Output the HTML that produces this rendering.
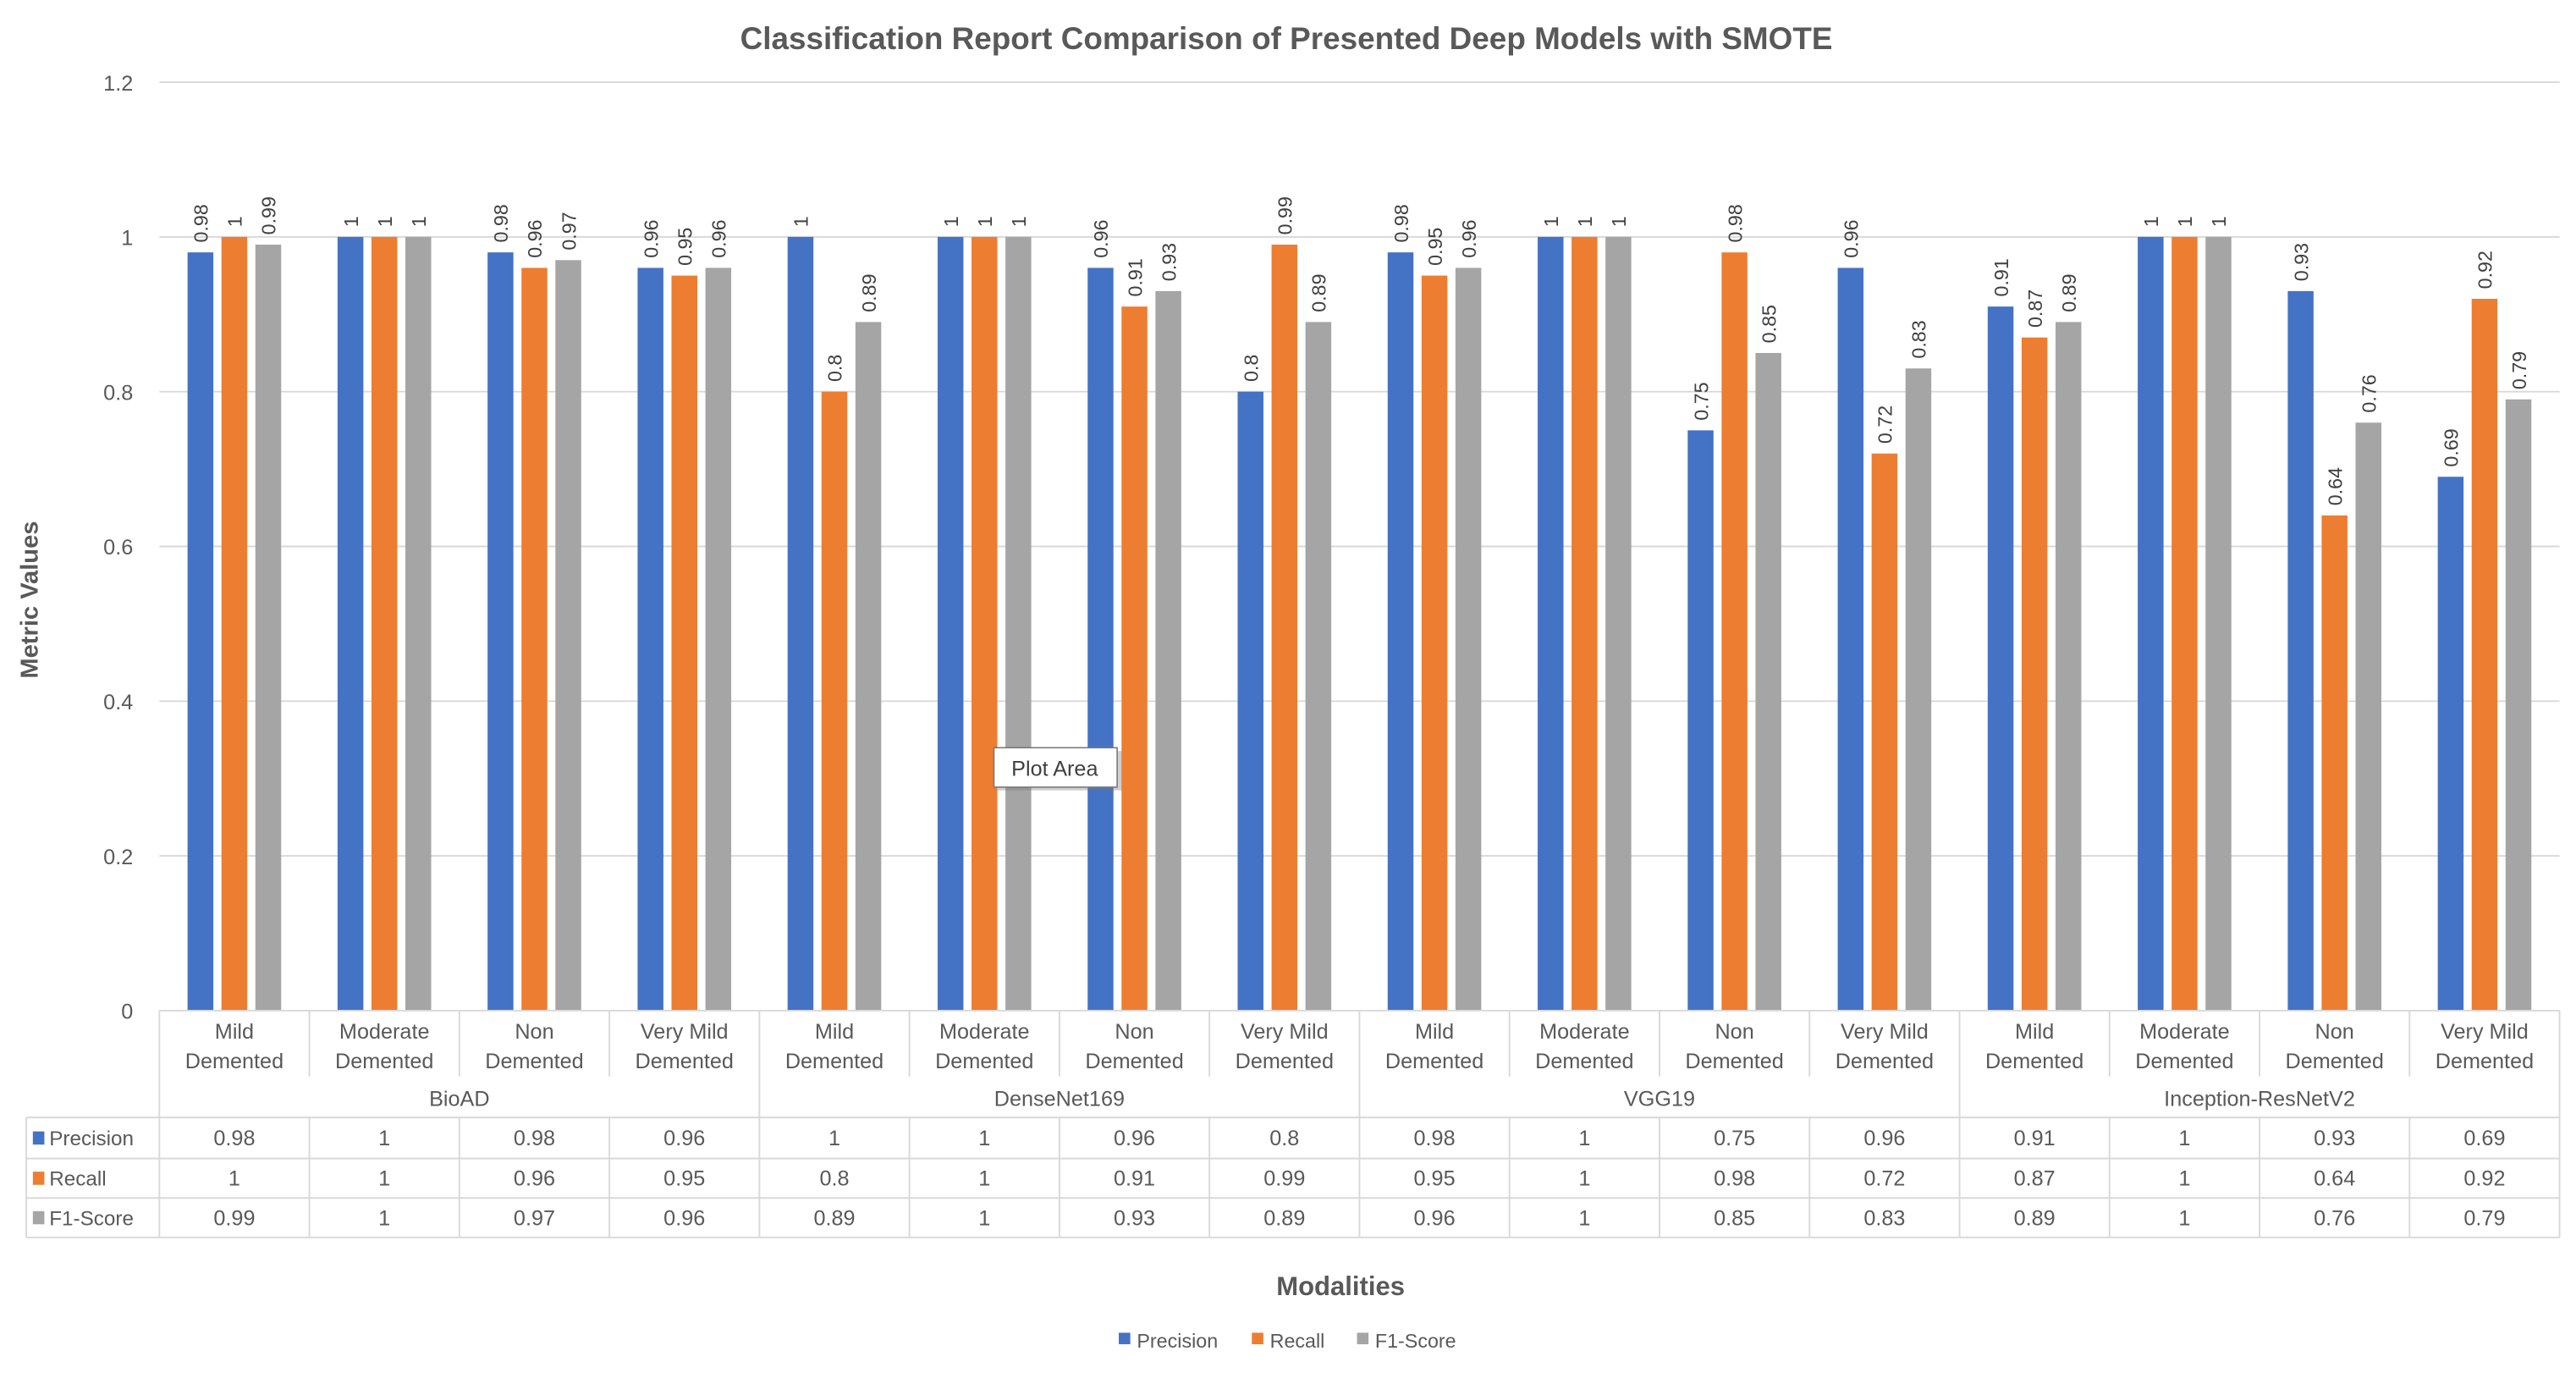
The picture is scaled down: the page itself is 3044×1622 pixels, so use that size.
<!DOCTYPE html>
<html><head><meta charset="utf-8"><style>
html,body{margin:0;padding:0;background:#fff;}
svg{display:block;font-family:"Liberation Sans",sans-serif;}
</style></head><body>
<svg id="chart" width="3044" height="1622" viewBox="0 0 1568 835.5" preserveAspectRatio="none" xmlns="http://www.w3.org/2000/svg">
<text x="783" y="30" text-anchor="middle" font-size="19" font-weight="bold" fill="#595959">Classification Report Comparison of Presented Deep Models with SMOTE</text>
<text transform="translate(23,365) rotate(-90)" text-anchor="middle" font-size="15" font-weight="bold" fill="#595959">Metric Values</text>
<text x="816" y="788" text-anchor="middle" font-size="16" font-weight="bold" fill="#595959">Modalities</text>
<g id="grid"></g><g id="bars"></g><g id="cats"></g><g id="table"></g>
<g>
<rect x="681" y="811" width="7" height="7" fill="#4472c4"/><text x="692" y="820" font-size="12" fill="#595959">Precision</text>
<rect x="762" y="811" width="7" height="7" fill="#ed7d31"/><text x="773" y="820" font-size="12" fill="#595959">Recall</text>
<rect x="826" y="811" width="7" height="7" fill="#a5a5a5"/><text x="837" y="820" font-size="12" fill="#595959">F1-Score</text>
</g>
<g>
<rect x="607" y="457" width="76" height="24" fill="#777" opacity="0.35"/>
<rect x="605" y="455" width="75" height="24" fill="#fff" stroke="#777" stroke-width="0.8"/>
<text x="642" y="472" text-anchor="middle" font-size="13" fill="#404040">Plot Area</text>
</g>
</svg>
<script>
const groups = ["BioAD","DenseNet169","VGG19","Inception-ResNetV2"];
const classes = [["Mild","Demented"],["Moderate","Demented"],["Non","Demented"],["Very Mild","Demented"]];
const seriesNames = ["Precision","Recall","F1-Score"];
const precision = [0.98,1,0.98,0.96, 1,1,0.96,0.8, 0.98,1,0.75,0.96, 0.91,1,0.93,0.69];
const recall    = [1,1,0.96,0.95, 0.8,1,0.91,0.99, 0.95,1,0.98,0.72, 0.87,1,0.64,0.92];
const f1        = [0.99,1,0.97,0.96, 0.89,1,0.93,0.89, 0.96,1,0.85,0.83, 0.89,1,0.76,0.79];
const yTicks = [0,0.2,0.4,0.6,0.8,1,1.2];

const NS="http://www.w3.org/2000/svg";
const colors=["#4472c4","#ed7d31","#a5a5a5"];
const series=[precision,recall,f1];
const L=97,R=1558,Y0=615,Ytop=50,vmax=1.2;
const n=precision.length, cw=(R-L)/n;
const y=v=>Y0-(v/vmax)*(Y0-Ytop);
const xc=i=>L+cw*i;
function mk(tag,attrs,parent,txt){const e=document.createElementNS(NS,tag);for(const k in attrs)e.setAttribute(k,attrs[k]);if(txt!==undefined)e.textContent=txt;parent.appendChild(e);return e;}
const grid=document.getElementById('grid'),bars=document.getElementById('bars'),cats=document.getElementById('cats'),table=document.getElementById('table');
yTicks.forEach(t=>{
  if(t>0){const l=mk('line',{x1:L,x2:R,y1:y(t),y2:y(t),stroke:'#d9d9d9','stroke-width':1},grid);
  
  }
  const tx=mk('text',{x:81,y:y(t)+5,'text-anchor':'end','font-size':13,fill:'#595959'},grid,String(t));
  
  
});
const bw=cw*0.172,gap=cw*0.054,gw=3*bw+2*gap;
for(let i=0;i<n;i++){
  const x0=xc(i)+(cw-gw)/2;
  series.forEach((s,k)=>{
    const v=s[i],bx=x0+k*(bw+gap);
    const r=mk('rect',{x:bx,y:y(v),width:bw,height:Y0-y(v),fill:colors[k]},bars);
    
    
    const t=mk('text',{transform:`translate(${bx+bw/2+4.5},${y(v)-6}) rotate(-90)`,'font-size':12,fill:'#404040'},bars,String(v));
    
    
  });
  const c=classes[i%4];
  c.forEach((ln,j)=>{
    const t=mk('text',{x:xc(i)+cw/2,y:632+j*18,'text-anchor':'middle','font-size':13,fill:'#595959'},cats,ln);
    
    
  });
  if(i%4!==0) mk('line',{x1:xc(i),x2:xc(i),y1:Y0,y2:655,stroke:'#d9d9d9'},cats);
}
mk('line',{x1:L,x2:R,y1:Y0,y2:Y0,stroke:'#d9d9d9'},cats);
groups.forEach((g,gi)=>{
  const t=mk('text',{x:xc(gi*4)+cw*2,y:673,'text-anchor':'middle','font-size':13,fill:'#595959'},cats,g);
  
  
  mk('line',{x1:xc(gi*4),x2:xc(gi*4),y1:Y0,y2:680,stroke:'#d9d9d9'},cats);
});
mk('line',{x1:R,x2:R,y1:Y0,y2:753,stroke:'#d9d9d9'},cats);
// table
const rowsY=[680,705,729,753];
rowsY.forEach(ry=>mk('line',{x1:16,x2:R,y1:ry,y2:ry,stroke:'#d9d9d9'},table));
mk('line',{x1:16,x2:16,y1:680,y2:753,stroke:'#d9d9d9'},table);
for(let i=0;i<n;i++) mk('line',{x1:xc(i),x2:xc(i),y1:680,y2:753,stroke:'#d9d9d9'},table);
series.forEach((s,k)=>{
  const cy=(rowsY[k]+rowsY[k+1])/2;
  mk('rect',{x:20,y:cy-4,width:7,height:8,fill:colors[k]},table);
  const lt=mk('text',{x:30,y:cy+4.5,'font-size':12.5,fill:'#595959'},table,seriesNames[k]);
  
  
  s.forEach((v,i)=>{
    const t=mk('text',{x:xc(i)+cw/2,y:cy+4.5,'text-anchor':'middle','font-size':13,fill:'#595959'},table,String(v));
    
    
  });
});
</script>
</body></html>
